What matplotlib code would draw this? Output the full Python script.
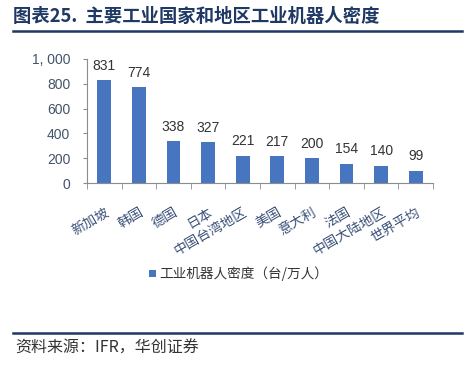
import matplotlib.pyplot as plt
from matplotlib.lines import Line2D
import numpy as np

plt.rcParams['font.family'] = ['Noto Sans CJK SC', 'DejaVu Sans']

# data
regions = ["新加坡", "韩国", "德国", "日本", "中国台湾地区", "美国",
           "意大利", "法国", "中国大陆地区", "世界平均"]
density = [831, 774, 338, 327, 221, 217, 200, 154, 140, 99]

navy = "#1F3864"
bar_color = "#4775C0"
gray = "#8C8C8C"

fig = plt.figure(figsize=(4.76, 3.71), dpi=100)
ax = fig.add_axes([87/476, 1 - 183/371, (433 - 87)/476, 124/371])

x = np.arange(len(regions))
bars = ax.bar(x, density, width=0.4, color=bar_color, label="工业机器人密度（台/万人）")
for xi, v in zip(x, density):
    ax.text(xi, v + 60, str(v), ha='center', va='bottom', fontsize=10,
            color="#333333", family='Liberation Sans')

ax.set_xlim(-0.5, len(regions) - 0.5)
ax.set_ylim(0, 1000)
ax.set_yticks([0, 200, 400, 600, 800, 1000])
ax.set_yticklabels(["0", "200", "400", "600", "800", "1, 000"],
                   family='Liberation Sans', fontsize=10, color="#44546A")

ax.set_xticks(x)
ax.set_xticklabels(regions, rotation=30, ha='right', rotation_mode='anchor',
                   fontsize=9.8, color="#3A5078")
ax.tick_params(axis='x', length=0, pad=16)
ax.set_xticks(np.arange(-0.5, len(regions)), minor=True)
ax.tick_params(axis='x', which='minor', length=4, color=gray, direction='out')
ax.tick_params(axis='y', length=3, color=gray, direction='out', pad=9)

for s in ['top', 'right']:
    ax.spines[s].set_visible(False)
for s in ['left', 'bottom']:
    ax.spines[s].set_color(gray)
    ax.spines[s].set_linewidth(0.8)

fig.legend(handles=[bars], loc='center', bbox_to_anchor=(239/476, 1 - 274/371),
           frameon=False, fontsize=9.8, handlelength=0.45, handleheight=0.45,
           handletextpad=0.3, labelcolor="#333333")

# title and source
fig.text(13/476, 1 - 16/371, "图表25.  主要工业国家和地区工业机器人密度",
         fontsize=13.2, fontweight='bold', color=navy, va='center', ha='left')
fig.add_artist(Line2D([13/476, 462/476], [1 - 31/371, 1 - 31/371],
                      color=navy, linewidth=1.8))
fig.add_artist(Line2D([13/476, 462/476], [1 - 333/371, 1 - 333/371],
                      color=navy, linewidth=1.8))
fig.text(15/476, 1 - 348/371, "资料来源：IFR，华创证券", fontsize=11.5,
         style='italic', color="#333333", va='center', ha='left')

fig.savefig("out.png", dpi=100)
